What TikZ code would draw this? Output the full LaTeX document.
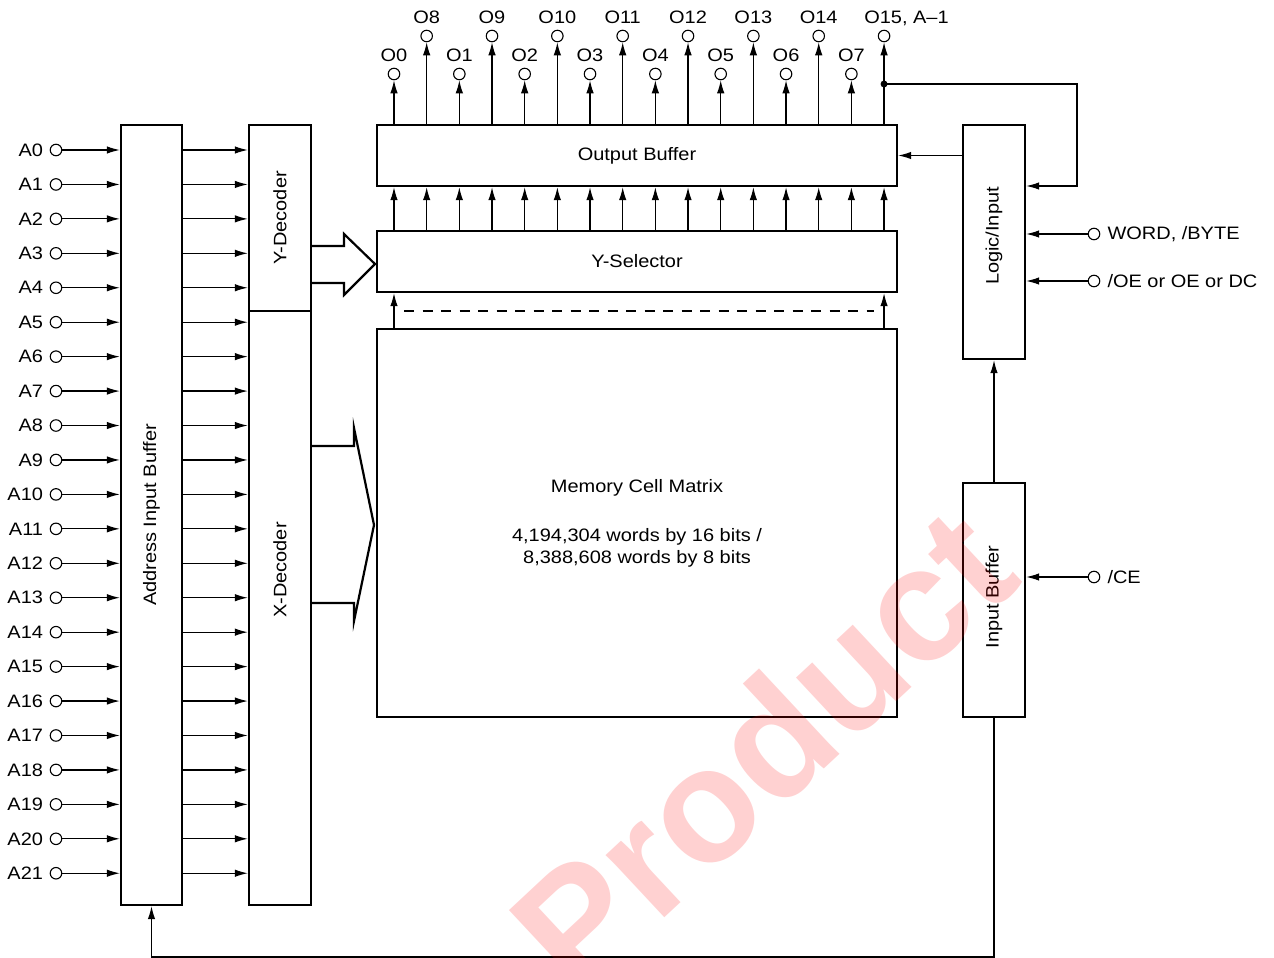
\documentclass[tikz,border=0pt]{standalone}
\usepackage{fontspec}
\setmainfont{Liberation Sans}[FakeStretch=1.11]
\newfontfamily\filfont{Liberation Sans}
\usepackage{tikz}
\usetikzlibrary{positioning,calc,arrows.meta}
\tikzset{
	bloc/.style={draw,line width=2.4pt,inner sep=0pt},
	broche/.style={draw,circle,line width=1.1pt,minimum size=11.5pt,inner sep=0pt,fill=white},
	sig/.style={line width=1.2pt,-{Latex[length=13pt,width=7.5pt]}},
	fleche/.style={line width=2.2pt,line join=miter},
	etiq/.style={inner sep=0pt}
}

\begin{document}
\begin{tikzpicture}[x=1pt,y=-1pt,font=\fontsize{18}{21.6}\selectfont]
	\def\pasA{34.44}
	\def\pasO{32.67}
	\useasboundingbox (0,0) rectangle (1274,958);
	
	%Blocs
	\node[bloc,minimum width=61pt,minimum height=780pt] (aib) at (151.5,515) {};
	\node[bloc,minimum width=62pt,minimum height=186pt] (ydec) at (280,218) {};
	\node[bloc,minimum width=62pt,minimum height=594pt] (xdec) at (280,608) {};
	\node[bloc,minimum width=520pt,minimum height=61pt] (ob) at (637,155.5) {Output Buffer};
	\node[bloc,minimum width=520pt,minimum height=61pt] (ysel) at (637,261.5) {Y-Selector};
	\node[bloc,minimum width=520pt,minimum height=388pt] (mem) at (637,523) {};
	\node[bloc,minimum width=62pt,minimum height=234pt] (logic) at (994,242) {};
	\node[bloc,minimum width=62pt,minimum height=234pt] (ibuf) at (994,600) {};
	
	%Textes
	\node[rotate=90] (aibt) at (aib.center) {Address Input Buffer};
	\node[rotate=90] (ydect) at (ydec.center) {Y-Decoder};
	\node[rotate=90] (xdect) at (280,570) {X-Decoder};
	\node[rotate=90] (logict) at (994,236) {Logic/Input};
	\node[rotate=90] (ibuft) at (994,597) {Input Buffer};
	\node (memt) at (637,488) {Memory Cell Matrix};
	\node[align=center] (memc) at (637,548) {4,194,304 words by 16 bits /\\8,388,608 words by 8 bits};
	
	%Broches d'adresse
	\foreach \i in {0,...,21}{
		\node[broche] (a\i) at (56,{150+\i*\pasA}) {};
		\node[etiq,left=6.5pt of a\i] (la\i) {A\i};
		\draw[sig] (a\i) -- (aib.west |- a\i);
		\draw[sig] (aib.east |- a\i) -- (ydec.west |- a\i);
	}
	
	%Sorties
	\foreach \j in {0,...,15}{
		\pgfmathtruncatemacro{\n}{mod(\j,2)==0 ? \j/2 : 8+(\j-1)/2}
		\pgfmathsetmacro{\yb}{mod(\j,2)==0 ? 74 : 36}
		\node[broche] (o\n) at ({394+\j*\pasO},\yb) {};
		\draw[sig] (ob.north -| o\n) -- (o\n);
		\draw[sig] (ysel.north -| o\n) -- (ob.south -| o\n);
		\ifnum\n<15
			\node[etiq,anchor=base] (lo\n) at ([yshift=6pt]o\n.north) {O\n};
		\fi
	}
	\node[etiq,anchor=base west] (lo15) at ([xshift=-20pt,yshift=6pt]o15.north) {O15, A--1};
	
	%Matrice vers selecteur
	\draw[sig] (mem.north -| o0) -- (ysel.south -| o0);
	\draw[sig] (mem.north -| o15) -- (ysel.south -| o15);
	\coordinate (tg) at (404,311);
	\coordinate (td) at (874,311);
	\draw[line width=1.2pt,dash pattern=on 10pt off 8.5pt] (tg) -- (td);
	
	%Fleches creuses
	\draw[fleche] (ydec.east |- 0,246) -- (344,246) -- (344,234) -- (375,264) -- (344,295) -- (344,283) -- (ydec.east |- 0,283);
	\draw[fleche] (xdec.east |- 0,446) -- (354,446) -- (354,428) -- (374,525) -- (354,621) -- (354,603) -- (xdec.east |- 0,603);
	
	%Logique
	\node[circle,fill,inner sep=0pt,minimum size=7pt] (noeud) at (o15 |- 0,84) {};
	\coordinate (r1) at (1077,84);
	\coordinate (r2) at (1077,186);
	\draw[sig] (noeud.center) -- (r1) -- (r2) -- (r2 -| logic.east);
	\draw[sig] (logic.west |- ob) -- (ob.east);
	\node[broche] (word) at (1094,234) {};
	\node[etiq,right=7pt of word] (lword) {WORD, /BYTE};
	\draw[sig] (word) -- (word -| logic.east);
	\node[broche] (oe) at (1094,281) {};
	\node[etiq,right=7pt of oe] (loe) {/OE or OE or DC};
	\draw[sig] (oe) -- (oe -| logic.east);
	\node[broche] (ce) at (1094,577) {};
	\node[etiq,right=7pt of ce] (lce) {/CE};
	\draw[sig] (ce) -- (ce -| ibuf.east);
	\draw[sig] (ibuf.north) -- (logic.south);
	\coordinate (bas) at (151.5,957);
	\draw[sig] (ibuf.south) |- (bas) -- (aib.south);
	
	%Filigrane
	\node[rotate=43,text=red,text opacity=0.18,font=\fontsize{162}{162}\filfont\bfseries] (filigrane) at (762,748) {Product};
\end{tikzpicture}
\end{document}
